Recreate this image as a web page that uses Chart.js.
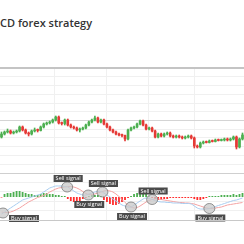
<!DOCTYPE html>
<html>
<head>
<meta charset="utf-8">
<script src="https://cdn.jsdelivr.net/npm/chart.js@4.4.1/dist/chart.umd.min.js"></script>
<style>
  html,body{margin:0;padding:0;background:#fff;}
  body{width:244px;height:244px;overflow:hidden;position:relative;font-family:"Open Sans",sans-serif;}
  #title{position:absolute;left:0;top:16.5px;font-size:11px;line-height:1;font-weight:600;color:#333;white-space:nowrap;}
  .rule{position:absolute;left:0;width:244px;}
  canvas{position:absolute;left:0;}
</style>
</head>
<body>
<div id="title">CD forex strategy</div>
<canvas id="priceChart" width="244" height="105" style="top:68px"></canvas>
<canvas id="macdChart" width="244" height="60" style="top:173px"></canvas>
<div class="rule" style="top:67px;height:2px;background:#c4c4c4"></div>
<div class="rule" style="top:172.5px;height:1px;background:#cfcfcf"></div>
<div class="rule" style="top:220px;height:1px;background:#c8c8c8"></div>
<script>
// ── price candles (81 bars) ─────────────────────────────
const open = [
  1.1836,1.1839,1.1841,1.1842,1.1840,1.1841,1.1842,1.1846,1.1843,1.1840,
  1.1839,1.1842,1.1843,1.18425,1.1846,1.1849,1.1850,1.1851,1.1853,1.1856,
  1.1850,1.18495,1.1853,1.1848,1.1846,1.1845,1.1843,1.1844,1.1845,1.1848,
  1.1851,1.1853,1.1855,1.1851,1.1853,1.1849,1.1846,1.1843,1.1841,1.1839,
  1.1838,1.18375,1.1834,1.1843,1.1845,1.1846,1.1849,1.1852,1.1848,1.1844,
  1.1845,1.1842,1.1836,1.1839,1.1837,1.1839,1.1840,1.1837,1.1836,1.1837,
  1.1836,1.1835,1.1836,1.1837,1.1835,1.1827,1.1826,1.1830,1.1831,1.18305,
  1.1832,1.18315,1.1833,1.18325,1.1833,1.1834,1.1833,1.1834,1.1836,1.1826,
  1.1834];
const close = [
  1.1839,1.1841,1.1842,1.1840,1.1841,1.1842,1.1846,1.1843,1.1840,1.1839,
  1.1842,1.1843,1.18425,1.1846,1.1849,1.1850,1.1851,1.1853,1.1856,1.1850,
  1.18495,1.1853,1.1848,1.1846,1.1845,1.1843,1.1844,1.1845,1.1848,1.1851,
  1.1853,1.1855,1.1851,1.1853,1.1849,1.1846,1.1843,1.1841,1.1839,1.1838,
  1.18375,1.1834,1.1843,1.1845,1.1846,1.1849,1.1852,1.1848,1.1844,1.1845,
  1.1842,1.1836,1.1839,1.1837,1.1839,1.1840,1.1837,1.1836,1.1837,1.1836,
  1.1835,1.1836,1.1837,1.1835,1.1827,1.1826,1.1830,1.1831,1.18305,1.1832,
  1.18315,1.1833,1.18325,1.1833,1.1834,1.1833,1.1834,1.1836,1.1826,1.1834,
  1.1838];
const high = [
  1.1841,1.1842,1.1844,1.1843,1.1842,1.1843,1.1847,1.1847,1.1844,1.1841,
  1.1843,1.1845,1.1844,1.1847,1.1850,1.1851,1.1852,1.1854,1.1857,1.1857,
  1.1851,1.1854,1.1854,1.1849,1.1847,1.1846,1.1845,1.1846,1.1849,1.1852,
  1.1854,1.1857,1.1856,1.1854,1.1854,1.1850,1.1847,1.1844,1.1842,1.1840,
  1.1839,1.1838,1.1844,1.1846,1.1847,1.1850,1.1853,1.1853,1.1849,1.1846,
  1.1846,1.1843,1.1840,1.1840,1.1840,1.1841,1.1841,1.1838,1.1838,1.1838,
  1.1837,1.1837,1.1838,1.1838,1.1836,1.1828,1.1831,1.1832,1.1832,1.1833,
  1.1833,1.1834,1.1834,1.1834,1.1835,1.1835,1.1835,1.1837,1.1837,1.1835,
  1.1840];
const low = [
  1.1835,1.1838,1.1840,1.1839,1.1839,1.1840,1.1841,1.1842,1.1839,1.1837,
  1.1838,1.1841,1.1841,1.1842,1.1845,1.1848,1.1849,1.1850,1.1852,1.1849,
  1.1848,1.1848,1.1847,1.1845,1.1844,1.1842,1.1841,1.1843,1.1844,1.1847,
  1.1850,1.1852,1.1850,1.1850,1.1848,1.1845,1.1842,1.1840,1.1838,1.1837,
  1.1836,1.1832,1.1833,1.1842,1.1844,1.1845,1.1848,1.1847,1.1843,1.1843,
  1.1841,1.1835,1.1835,1.1836,1.1836,1.1838,1.1836,1.1835,1.1835,1.1835,
  1.1834,1.1834,1.1835,1.1834,1.1825,1.1825,1.1825,1.1829,1.1830,1.1830,
  1.1831,1.1831,1.1832,1.1832,1.1832,1.1832,1.1832,1.1833,1.1824,1.1825,
  1.1833];

// ── MACD (values in pips, 1e-4) ─────────────────────────
const histo = [
  -0.5,3,4,4,5,6,6,5,4,3, 3,2,2,3,4,4,3,3,2,2,
  1,1,-2,-4,-5,-5,-4,-2,-1,1, 2,2,2,1,-3,-5,-7,-8,-8,-7,
  -5,-3,-1,1,3,4,5,4,3,1, -1,-2,-3,-3,-2,-2,-1,-1,-1,-1,
  -1,-1,-1,-1,-2,-3,-3,-2,-1,1, 1,1,1,2,2,2,2,3,2,3,
  4];
const macdLine = [
  -17,-15,-13,-11,-9,-7,-5,-3,-2,-1, 0,1,2,3,5,7,9,10,11,11,
  11,10.5,10,8,6,4,3,2,2,3, 4,5,5.5,5.5,4,2,0,-2,-4,-6,
  -8,-9,-10,-10,-8,-6,-4,-2,-1,-1.5, -2.5,-3.5,-4.5,-5,-5,-5.5,-5.5,-6,-6,-6,
  -6.5,-6.5,-6.5,-7,-9,-11,-12,-12,-12,-11.5, -10.5,-9.5,-8.5,-7.5,-6.5,-5.5,-4.5,-3.5,-3,-2,
  -1];
const signalLine = [
  -15,-15.5,-15.5,-15,-14,-12.5,-11,-9,-7,-5, -3.5,-2,-0.5,0.5,1.5,3,5,6.5,8,9,
  9.5,10,10.5,10.5,10,9,7.5,5.5,3.5,2.5, 2.5,3,4,5,6,6.5,6,5,3,0.5,
  -2.5,-5.5,-8,-10,-11,-10.5,-9,-7,-5,-3.5, -2.5,-2,-2,-2.5,-3,-3.5,-4,-4.5,-5,-5.5,
  -5.5,-6,-6,-6.5,-7,-8,-9,-10,-11,-11.5, -11.5,-11,-10.5,-10,-9,-8,-7.5,-7,-6.5,-6,
  -5.5];

// crossover marks: bar index, MACD level, type
const sigIdx   = [0.5, 21.8, 28.8, 33.5, 43, 50, 69];
const sigLevel = [-16, 10, 2, 5, -10, -2.5, -11.5];
const sigType  = ['Buy','Sell','Buy','Sell','Buy','Sell','Buy'];

const bars = close.map((_, i) => 'B' + (i + 1));
const UP = '#4caf50', DN = '#e53935';
const dir = close.map((c, i) => c >= open[i] ? UP : DN);

const gridCol = '#f0f0f0';
const hiddenAxis = {display:false};
const gridAxis = (extra) => Object.assign({
  display:true,
  ticks:{display:false},
  border:{display:false},
  grid:{color:gridCol, drawTicks:false, lineWidth:1}
}, extra);

new Chart(document.getElementById('priceChart'), {
  type:'bar',
  data:{
    labels:bars,
    datasets:[
      {data:low.map((l, i) => [l, high[i]]), backgroundColor:dir, barThickness:1, grouped:false, order:2},
      {data:open.map((o, i) => [o, close[i]]), backgroundColor:dir, barThickness:2, grouped:false, minBarLength:1, order:1}
    ]
  },
  options:{
    responsive:false, animation:false, events:[],
    layout:{padding:0},
    plugins:{legend:{display:false}, tooltip:{enabled:false}},
    scales:{
      x:hiddenAxis,
      xg:gridAxis({type:'linear', axis:'x', position:'bottom', min:-0.46, max:4.2, ticks:{display:false, stepSize:1}}),
      y:gridAxis({min:1.1800, max:1.1905,
        ticks:{display:false, count:13},
        grid:{drawTicks:false, color:c => c.index === 6 ? '#d4d4d4' : gridCol}})
    }
  }
});

const signalPlug = {
  id:'signals',
  afterDatasetsDraw(chart) {
    const {ctx, chartArea} = chart;
    const x = chart.scales.x, y = chart.scales.y;
    ctx.save();
    ctx.font = '5.5px "Open Sans"';
    ctx.textBaseline = 'middle';
    sigIdx.forEach((i, k) => {
      const cx = x.getPixelForValue(i), cy = y.getPixelForValue(sigLevel[k]);
      const buy = sigType[k] === 'Buy';
      ctx.beginPath();
      ctx.ellipse(cx, cy, 5.5, 5, 0, 0, Math.PI * 2);
      ctx.fillStyle = 'rgba(200,200,200,.75)';
      ctx.fill();
      ctx.strokeStyle = '#7a7a7a'; ctx.lineWidth = .8;
      ctx.stroke();
      const txt = sigType[k] + ' signal';
      const w = ctx.measureText(txt).width + 4, h = 7;
      let bx = cx - w / 2 + 1, by = buy ? cy + 6 : cy - 5 - h;
      if (bx < chartArea.left) { bx = cx + 6; by = cy + 2; }
      ctx.fillStyle = '#4a4a4a';
      ctx.fillRect(bx, by, w, h);
      ctx.fillStyle = '#fff';
      ctx.fillText(txt, bx + 2, by + h / 2 + .3);
    });
    ctx.restore();
  }
};

new Chart(document.getElementById('macdChart'), {
  type:'bar',
  plugins:[signalPlug],
  data:{
    labels:bars,
    datasets:[
      {type:'line', data:macdLine, borderColor:'#a9cdf0', borderWidth:1, pointRadius:0, tension:.35, order:1},
      {type:'line', data:signalLine, borderColor:'#f4a3a3', borderWidth:1, pointRadius:0, tension:.35, order:2},
      {data:histo, backgroundColor:histo.map(v => v >= 0 ? '#4caf50' : '#ff2d2d'),
       barPercentage:.6, categoryPercentage:1, order:3}
    ]
  },
  options:{
    responsive:false, animation:false, events:[],
    layout:{padding:{top:0, bottom:13, left:0, right:0}},
    plugins:{legend:{display:false}, tooltip:{enabled:false}},
    scales:{
      x:hiddenAxis,
      xg:gridAxis({type:'linear', axis:'x', position:'bottom', min:-0.46, max:4.2, ticks:{display:false, stepSize:1}}),
      y:gridAxis({min:-23, max:24, ticks:{display:false, count:6}})
    }
  }
});
</script>
</body>
</html>
